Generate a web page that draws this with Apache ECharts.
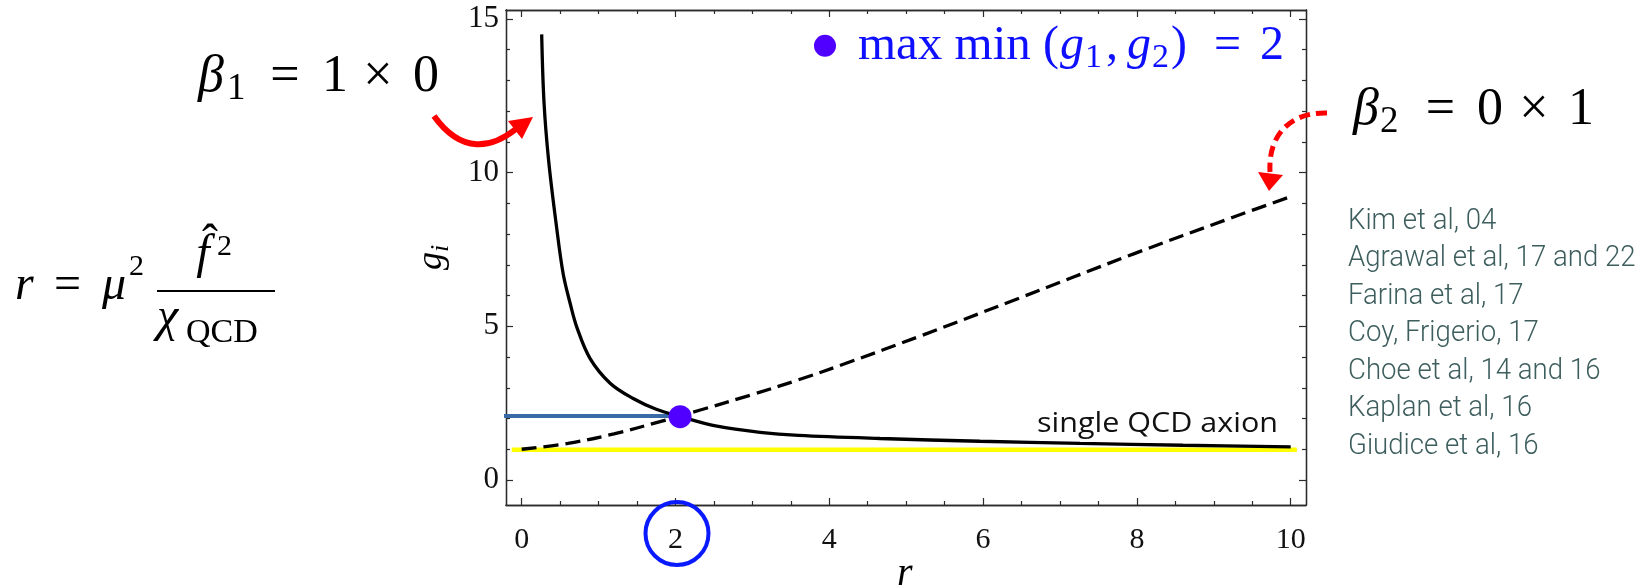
<!DOCTYPE html>
<html>
<head>
<meta charset="utf-8">
<script src="https://cdn.jsdelivr.net/npm/echarts@6/dist/echarts.min.js"></script>
<style>html,body{margin:0;padding:0;background:#fff}#c{width:1648px;height:588px}</style>
</head>
<body>
<div id="c"></div>
<script>
// ---- data ----
const xMajorTicks = [0, 2, 4, 6, 8, 10];
const xMinorTicks = [0.5, 1, 1.5, 2.5, 3, 3.5, 4.5, 5, 5.5, 6.5, 7, 7.5, 8.5, 9, 9.5];
const yMajorTicks = [0, 5, 10, 15];
const yMinorTicks = [1, 2, 3, 4, 6, 7, 8, 9, 11, 12, 13, 14];
// g1 (solid), beta1 = 1 x 0
const g1Points = [[0.26,14.5],[0.29,12.3],[0.35,10.4],[0.45,8.3],[0.54,6.7],[0.63,5.75],[0.72,4.95],[0.89,3.95],[1.15,3.15],[1.45,2.65],[1.75,2.3],[2.07,2.06],[2.54,1.75],[3.1,1.55],[3.6,1.45],[4.66,1.35],[5.96,1.26],[7.26,1.19],[8.6,1.13],[10.0,1.08]];
// g2 (dashed), beta2 = 0 x 1
const g2Points = [[0,1.0],[0.6,1.19],[1.2,1.5],[1.8,1.9],[2.3,2.26],[3.0,2.78],[3.6,3.26],[4.2,3.78],[5.2,4.7],[6.4,5.85],[7.95,7.35],[9.25,8.55],[10.0,9.22]];
const maxMinPoint = [[2.06, 2.06]];
const singleAxionLine = [[-0.13, 0.98], [10.08, 0.98]];
const maxMinLevel = [[-0.24, 2.08], [2.06, 2.08]];
const citations = ['Kim et al, 04','Agrawal et al, 17 and 22','Farina et al, 17','Coy, Frigerio, 17','Choe et al, 14 and 16','Kaplan et al, 16','Giudice et al, 16'];

// ---- chart ----
const SERIF = 'Liberation Serif';
const AX = '#2b2b2b';
const chart = echarts.init(document.getElementById('c'), null, {renderer: 'canvas'});

function xAx(pos, ticks, len, labels) {
  return {
    type: 'value', min: -0.204, max: 10.199, position: pos, gridIndex: 0,
    axisLine: {show: true, onZero: false, lineStyle: {color: AX, width: 1.3}},
    axisTick: {show: true, inside: true, length: len, customValues: ticks, lineStyle: {color: AX, width: 1.2}},
    axisLabel: labels ? {show: true, customValues: ticks, margin: 20, fontFamily: SERIF, fontSize: 30, color: '#111'} : {show: false},
    splitLine: {show: false}, minorTick: {show: false}, axisPointer: {show: false}
  };
}
function yAx(pos, ticks, len, labels) {
  return {
    type: 'value', min: -0.814, max: 15.293, position: pos, gridIndex: 0,
    axisLine: {show: true, onZero: false, lineStyle: {color: AX, width: 1.3}},
    axisTick: {show: true, inside: true, length: len, customValues: ticks, lineStyle: {color: AX, width: 1.2}},
    axisLabel: labels ? {show: true, customValues: ticks, margin: 7, fontFamily: SERIF, fontSize: 31, color: '#111', padding: [8, 0, 0, 0]} : {show: false},
    splitLine: {show: false}, minorTick: {show: false}, axisPointer: {show: false}
  };
}

// plain text piece placed by its baseline
function tx(text, x, base, size, o) {
  o = o || {};
  const mid = o.mid != null ? o.mid : 0.3375;
  const style = {
    text: text, fill: o.fill || '#000',
    fontFamily: o.family || SERIF, fontSize: size,
    align: o.align || 'left', verticalAlign: 'middle'
  };
  if (o.it) style.fontStyle = 'italic';
  if (o.w) style.fontWeight = o.w;
  const el = {type: 'text', x: x, y: base - mid * size, z: 100, style: style};
  if (o.sx) el.scaleX = o.sx;
  return el;
}

const BLUE = '#0f0fff';
const graphics = [
  // legend
  {type: 'circle', z: 100, shape: {cx: 825, cy: 45.7, r: 11}, style: {fill: '#5000ff'}},
  tx('max min', 858, 62.7, 49, {fill: BLUE}),
  tx('(', 1043, 62.7, 48, {fill: BLUE}),
  tx('g', 1060, 62.7, 48, {fill: BLUE, it: true}),
  tx('1', 1085, 70, 34, {fill: BLUE}),
  tx(',', 1106, 62.7, 48, {fill: BLUE}),
  tx('g', 1127, 62.7, 48, {fill: BLUE, it: true}),
  tx('2', 1152, 70, 34, {fill: BLUE}),
  tx(')', 1171, 62.7, 48, {fill: BLUE}),
  tx('=', 1227.5, 62.7, 48, {fill: BLUE, align: 'center'}),
  tx('2', 1272, 62.7, 48, {fill: BLUE, align: 'center'}),
  // beta1
  tx('β', 198, 95, 52, {it: true}),
  tx('1', 227, 102, 37),
  tx('=', 285, 95, 52, {align: 'center'}),
  tx('1', 335, 95, 52, {align: 'center'}),
  tx('×', 378, 95, 52, {align: 'center'}),
  tx('0', 426, 95, 52, {align: 'center'}),
  // beta2
  tx('β', 1353, 128, 52, {it: true}),
  tx('2', 1380, 135, 37),
  tx('=', 1440.5, 128, 52, {align: 'center'}),
  tx('0', 1490, 128, 52, {align: 'center'}),
  tx('×', 1534, 128, 52, {align: 'center'}),
  tx('1', 1581, 128, 52, {align: 'center'}),
  // r formula
  tx('r', 15, 303, 48, {it: true}),
  tx('=', 67.5, 303, 48, {align: 'center'}),
  tx('μ', 102, 303, 48, {it: true}),
  tx('2', 129, 277, 30),
  {type: 'line', z: 100, shape: {x1: 157, y1: 291, x2: 275, y2: 291}, style: {stroke: '#000', lineWidth: 1.8}},
  tx('f', 203, 272, 48, {it: true, align: 'center'}),
  tx('ˆ', 210, 262, 48, {align: 'center'}),
  tx('2', 217, 257, 30),
  tx('χ', 157, 335, 48, {it: true}),
  tx('QCD', 186, 345, 34),
  // axis names
  {type: 'group', x: 444, y: 256, rotation: Math.PI / 2, z: 100, children: [
    tx('g', -14, 0, 36, {it: true}),
    tx('i', 4, 6, 26, {it: true})
  ]},
  tx('r', 897, 588, 40, {it: true}),
  // single QCD axion label
  tx('single QCD axion', 1037, 435, 28, {family: 'Open Sans', mid: 0.388, sx: 1.09, fill: '#111'}),
  // citations
  {type: 'text', x: 1348, y: 202.7, z: 100, scaleX: 0.92,
   style: {text: citations.join('\n'), fontFamily: 'Roboto', fontWeight: 300, fontSize: 30, lineHeight: 37.5, fill: '#3e5e5e', verticalAlign: 'top'}},
  // circle around tick label 2
  {type: 'circle', z: 100, shape: {cx: 677, cy: 533.5, r: 31.5}, style: {fill: 'none', stroke: '#0a1aff', lineWidth: 4}},
  // red solid arrow (beta1)
  {type: 'bezierCurve', z: 100, shape: {x1: 434, y1: 116, x2: 516, y2: 129, cpx1: 462, cpy1: 155, cpx2: 492, cpy2: 148}, style: {stroke: '#ff0000', lineWidth: 6, fill: 'none'}},
  {type: 'polygon', z: 100, shape: {points: [[533, 117], [508, 121], [522, 139]]}, style: {fill: '#ff0000'}},
  // red dashed arrow (beta2)
  {type: 'bezierCurve', z: 100, shape: {x1: 1327, y1: 113, x2: 1270, y2: 172, cpx1: 1290, cpy1: 112, cpx2: 1268, cpy2: 135}, style: {stroke: '#ff0000', lineWidth: 5, lineDash: [11, 6], fill: 'none'}},
  {type: 'polygon', z: 100, shape: {points: [[1269, 191], [1258, 172], [1283, 175]]}, style: {fill: '#ff0000'}}
];

chart.setOption({
  animation: false,
  backgroundColor: '#ffffff',
  grid: {left: 506, top: 10, width: 800, height: 495, containLabel: false, outerBoundsMode: 'none'},
  xAxis: [xAx('bottom', xMajorTicks, 7, true), xAx('bottom', xMinorTicks, 4, false), xAx('top', xMajorTicks, 7, false), xAx('top', xMinorTicks, 4, false)],
  yAxis: [yAx('left', yMajorTicks, 7, true), yAx('left', yMinorTicks, 4, false), yAx('right', yMajorTicks, 7, false), yAx('right', yMinorTicks, 4, false)],
  series: [
    {type: 'line', data: singleAxionLine, showSymbol: false, lineStyle: {color: '#ffff00', width: 4.5}, z: 1, silent: true},
    {type: 'line', data: maxMinLevel, showSymbol: false, clip: false, lineStyle: {color: '#3a69a8', width: 4}, z: 2, silent: true},
    {type: 'line', data: g2Points, showSymbol: false, smooth: 0.35, lineStyle: {color: '#000', width: 3.3, type: [15, 7]}, z: 3, silent: true},
    {type: 'line', data: g1Points, showSymbol: false, smooth: 0.35, lineStyle: {color: '#000', width: 3.3}, z: 4, silent: true},
    {type: 'scatter', data: maxMinPoint, symbolSize: 23, itemStyle: {color: '#5000ff', opacity: 1}, z: 5, silent: true}
  ],
  graphic: graphics
});
</script>
</body>
</html>
